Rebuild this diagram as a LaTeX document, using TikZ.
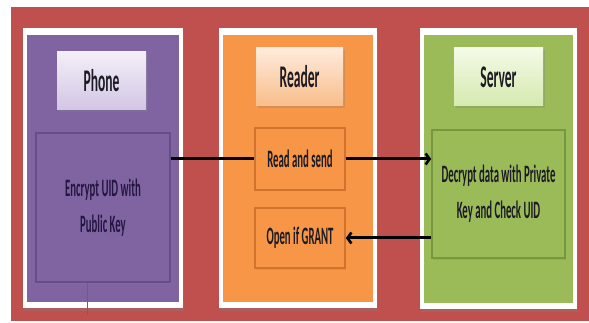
\documentclass[tikz,border=0pt]{standalone}
\usepackage{graphicx}
\usepackage{fontspec}
\setmainfont{Carlito}
\usetikzlibrary{arrows.meta,shadows}

\definecolor{bgred}{HTML}{C0504D}
\definecolor{phonefill}{HTML}{8064A2}
\definecolor{phoneedge}{HTML}{654E85}
\definecolor{readerfill}{HTML}{F79646}
\definecolor{readeredge}{HTML}{D0732C}
\definecolor{serverfill}{HTML}{9BBB59}
\definecolor{serveredge}{HTML}{779640}
\definecolor{phonetop}{HTML}{F3EFF8}
\definecolor{phonebot}{HTML}{D2C5E4}
\definecolor{readertop}{HTML}{FEEBDC}
\definecolor{readerbot}{HTML}{F9BD8A}
\definecolor{servertop}{HTML}{F4FAE8}
\definecolor{serverbot}{HTML}{D5EAAE}
\definecolor{inktext}{HTML}{1C1A22}
\definecolor{phoneink}{HTML}{241640}

% condensed lettering
\newcommand\narrow[1]{\scalebox{0.43}[1]{#1}}

\tikzset{
  frame/.style={fill=white, inner sep=0pt,
    drop shadow={shadow xshift=1pt, shadow yshift=-3pt, opacity=0.35}},
  panel/.style={inner sep=0pt},
  header/.style={inner sep=0pt, text=inktext,
    font=\fontsize{31.5}{34}\selectfont\bfseries,
    drop shadow={shadow xshift=1.5pt, shadow yshift=-2pt, opacity=0.3}},
  taskbox/.style={inner sep=0pt, line width=1.6pt, align=center, text=inktext,
    font=\fontsize{25}{36}\selectfont\bfseries,
    drop shadow={shadow xshift=1pt, shadow yshift=-1.5pt, opacity=0.25}},
  link/.style={line width=3pt, black},
  flow/.style={link, -{Straight Barb[length=4pt, width=11pt, line width=2.6pt]}},
}

\begin{document}
\begin{tikzpicture}[x=1pt, y=-1pt]
\useasboundingbox (0,0) rectangle (589,323);
\fill[white] (0,0) rectangle (589,323);

% backdrop
\node[fill=bgred, inner sep=0pt, minimum width=578pt, minimum height=314pt]
  (backdrop) at (300,164) {};

% white frames and coloured panels
\node[frame, minimum width=160pt, minimum height=280pt] (phoneframe) at (103,168) {};
\node[frame, minimum width=158pt, minimum height=280pt] (readerframe) at (298,168) {};
\node[frame, minimum width=157pt, minimum height=281pt] (serverframe) at (498.5,168.5) {};

\node[panel, fill=phonefill, minimum width=152pt, minimum height=267pt] (phonepanel) at (103,168.5) {};
\node[panel, fill=readerfill, minimum width=150pt, minimum height=267pt] (readerpanel) at (298,168.5) {};
\node[panel, fill=serverfill, minimum width=149pt, minimum height=268pt] (serverpanel) at (498.5,169) {};

% column headers
\node[header, top color=phonetop, bottom color=phonebot,
      minimum width=89pt, minimum height=58pt] (phone) at (101.5,81) {\narrow{Phone}};
\node[header, top color=readertop, bottom color=readerbot,
      minimum width=87pt, minimum height=58pt] (reader) at (299.5,77) {\narrow{Reader}};
\node[header, top color=servertop, bottom color=serverbot,
      minimum width=89pt, minimum height=58pt] (server) at (498.5,77) {\narrow{Server}};

% steps
\node[taskbox, fill=phonefill, draw=phoneedge, text=phoneink,
      minimum width=134pt, minimum height=149pt] (encrypt) at (103,207.5)
      {\narrow{Encrypt UID with}\\\narrow{Public Key}};
\node[taskbox, fill=readerfill, draw=readeredge,
      minimum width=90pt, minimum height=62pt] (readsend) at (300,159) {\narrow{Read and send}};
\node[taskbox, fill=readerfill, draw=readeredge,
      minimum width=90pt, minimum height=60pt] (opengrant) at (300,238) {\narrow{Open if GRANT}};
\node[taskbox, fill=serverfill, draw=serveredge,
      minimum width=133pt, minimum height=128pt] (decrypt) at (498.5,194)
      {\narrow{Decrypt data with Private}\\\narrow{Key and Check UID}};

% message flow
\draw[link] (encrypt.east |- readsend.west) -- (readsend.west);
\draw[flow] (readsend.east) -- (decrypt.west |- readsend.east);
\draw[flow] (decrypt.west |- opengrant.east) -- (opengrant.east);

% small tick below the phone step
\coordinate (tickend) at (87,315);
\draw[line width=0.8pt, black!60] (tickend |- encrypt.south) -- (tickend);
\end{tikzpicture}
\end{document}
